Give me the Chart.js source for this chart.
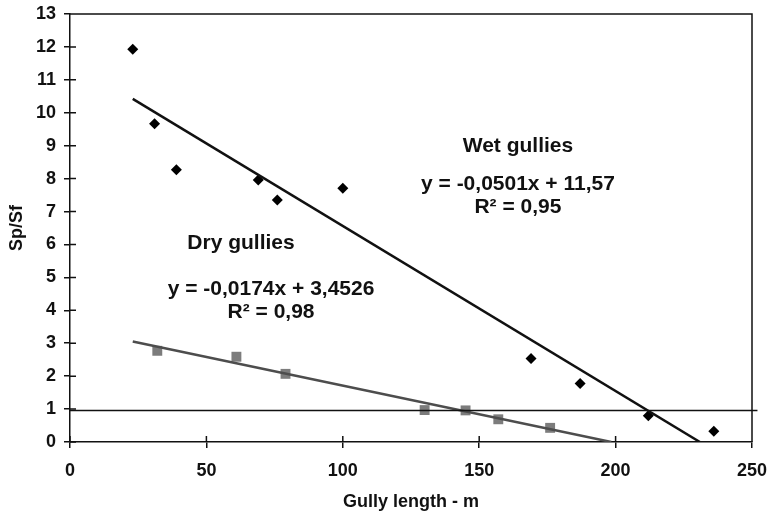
<!DOCTYPE html>
<html>
<head>
<meta charset="utf-8">
<script src="https://cdn.jsdelivr.net/npm/chart.js@4/dist/chart.umd.min.js"></script>
<style>
  html, body { margin: 0; padding: 0; background: #fff; }
  #wrap { width: 769px; height: 514px; }
</style>
</head>
<body>
<div id="wrap"><canvas id="myCanvas"></canvas></div>
<script>
const wetX = [23, 31, 39, 69, 76, 100, 169, 187, 212, 236];
const wetY = [11.93, 9.67, 8.27, 7.96, 7.35, 7.71, 2.54, 1.78, 0.8, 0.33];
const dryX = [32, 61, 79, 130, 145, 157, 176];
const dryY = [2.77, 2.59, 2.07, 0.97, 0.96, 0.69, 0.43];

// trend line end points
const wetFitX = [23, 230.9];
const wetFitY = [10.42, 0];
const dryFitX = [23, 198.4];
const dryFitY = [3.05, 0];

// horizontal reference line
const refX = [0, 252];
const refY = [0.96, 0.96];

const xTicks = [0, 50, 100, 150, 200, 250];
const yTicks = [0, 1, 2, 3, 4, 5, 6, 7, 8, 9, 10, 11, 12, 13];

const FONT = "'Liberation Sans', Arial, sans-serif";

const toPts = (xs, ys) => xs.map((x, i) => ({ x: x, y: ys[i] }));

// text notes, placed in data units
const notes = [
  { text: "Wet gullies", x: 164.2, y: 8.97 },
  { text: "y = -0,0501x + 11,57", x: 164.2, y: 7.82 },
  { text: "R² = 0,95", x: 164.2, y: 7.12 },
  { text: "Dry gullies", x: 62.7, y: 6.05 },
  { text: "y = -0,0174x + 3,4526", x: 73.7, y: 4.63 },
  { text: "R² = 0,98", x: 73.7, y: 3.93 },
];

const framePlugin = {
  id: "frame",
  afterDraw(chart) {
    const { ctx, chartArea } = chart;
    const xs = chart.scales.x;
    const ys = chart.scales.y;
    ctx.save();
    ctx.strokeStyle = "#111";
    ctx.lineWidth = 1.5;
    ctx.beginPath();
    // top and right edge of the box
    ctx.moveTo(chartArea.left, chartArea.top);
    ctx.lineTo(chartArea.right, chartArea.top);
    ctx.lineTo(chartArea.right, chartArea.bottom);
    // inner tick stubs
    xTicks.forEach((v) => {
      const px = xs.getPixelForValue(v);
      ctx.moveTo(px, chartArea.bottom);
      ctx.lineTo(px, chartArea.bottom - 6);
    });
    yTicks.forEach((v) => {
      const py = ys.getPixelForValue(v);
      ctx.moveTo(chartArea.left, py);
      ctx.lineTo(chartArea.left + 6, py);
    });
    ctx.stroke();

    ctx.fillStyle = "#111";
    ctx.font = "bold 21px " + FONT;
    ctx.textAlign = "center";
    ctx.textBaseline = "middle";
    notes.forEach((n) => {
      ctx.fillText(n.text, xs.getPixelForValue(n.x), ys.getPixelForValue(n.y));
    });
    ctx.restore();
  },
};

// keep label overhang from shrinking the plot box
const noOverhang = (scale) => {
  scale.paddingLeft = 0;
  scale.paddingRight = 0;
  scale.paddingTop = 0;
  scale.paddingBottom = 0;
};

new Chart(document.getElementById("myCanvas"), {
  type: "scatter",
  data: {
    datasets: [
      {
        label: "Reference",
        type: "line",
        data: toPts(refX, refY),
        borderColor: "#111",
        borderWidth: 1.5,
        pointRadius: 0,
        clip: false,
      },
      {
        label: "Wet fit",
        type: "line",
        data: toPts(wetFitX, wetFitY),
        borderColor: "#111",
        borderWidth: 2.5,
        pointRadius: 0,
      },
      {
        label: "Dry fit",
        type: "line",
        data: toPts(dryFitX, dryFitY),
        borderColor: "#4d4d4d",
        borderWidth: 2.5,
        pointRadius: 0,
      },
      {
        label: "Wet gullies",
        data: toPts(wetX, wetY),
        pointStyle: "rectRot",
        pointRadius: 5.5,
        backgroundColor: "#000",
        borderColor: "#000",
        borderWidth: 0,
      },
      {
        label: "Dry gullies",
        data: toPts(dryX, dryY),
        pointStyle: "rect",
        pointRadius: 7,
        backgroundColor: "#7c7c7c",
        borderColor: "#7c7c7c",
        borderWidth: 0,
      },
    ],
  },
  options: {
    animation: false,
    responsive: true,
    maintainAspectRatio: false,
    layout: { padding: { top: 14, right: 17, left: 0, bottom: 0 } },
    plugins: {
      legend: { display: false },
      tooltip: { enabled: false },
    },
    scales: {
      x: {
        type: "linear",
        min: 0,
        max: 250,
        afterFit: (scale) => { scale.height = 72; noOverhang(scale); },
        afterBuildTicks: (scale) => { scale.ticks = xTicks.map((v) => ({ value: v })); },
        border: { display: true, color: "#111", width: 1.5 },
        grid: { drawOnChartArea: false, drawTicks: true, tickLength: 6, color: "#111", lineWidth: 1.5 },
        ticks: { color: "#111", padding: 12, font: { family: FONT, size: 18, weight: "bold" } },
        title: {
          display: true,
          text: "Gully length - m",
          color: "#111",
          padding: { top: 0, bottom: 1 },
          font: { family: FONT, size: 18, weight: "bold" },
        },
      },
      y: {
        type: "linear",
        min: 0,
        max: 13,
        afterFit: (scale) => { scale.width = 70; noOverhang(scale); },
        afterBuildTicks: (scale) => { scale.ticks = yTicks.map((v) => ({ value: v })); },
        border: { display: true, color: "#111", width: 1.5 },
        grid: { drawOnChartArea: false, drawTicks: true, tickLength: 6, color: "#111", lineWidth: 1.5 },
        ticks: { color: "#111", padding: 8, font: { family: FONT, size: 18, weight: "bold" } },
        title: {
          display: true,
          text: "Sp/Sf",
          color: "#111",
          padding: { top: 6, bottom: 0 },
          font: { family: FONT, size: 18, weight: "bold" },
        },
      },
    },
  },
  plugins: [framePlugin],
});
</script>
</body>
</html>
